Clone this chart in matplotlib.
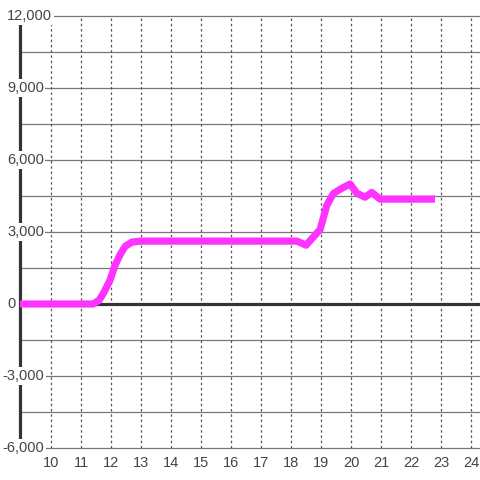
import matplotlib
matplotlib.use("Agg")
import matplotlib.pyplot as plt
import matplotlib.transforms as mtransforms

plt.rcParams['font.family'] = ['Liberation Sans', 'DejaVu Sans']
plt.rcParams['lines.scale_dashes'] = False

# series
hours = [8.9, 11.4, 11.6, 11.75, 11.97, 12.13, 12.3, 12.47, 12.7, 13.0,
         18.2, 18.5, 18.97, 19.19, 19.41, 19.69, 19.97, 20.19, 20.47,
         20.69, 20.97, 22.8]
values = [0, 0, 150, 450, 1000, 1600, 2050, 2400, 2580, 2620,
          2620, 2450, 3100, 4100, 4600, 4820, 5000, 4620, 4450,
          4650, 4370, 4370]

x_ticks = list(range(10, 25))
y_grid = list(range(-6000, 12001, 1500))
y_labels = list(range(-6000, 12001, 3000))

fig = plt.figure(figsize=(4.8, 4.8), dpi=100)
W = H = 480.0
left_px, right_px, top_px, bottom_px = 19.5, 480, 16, 448
ax = fig.add_axes([left_px / W, 1 - bottom_px / H,
                   (right_px - left_px) / W, (bottom_px - top_px) / H])
ax.set_xlim(10 - (51 - left_px) / 30.0, 10 + (right_px - 51) / 30.0)
ax.set_ylim(-6000, 12000)

# grid
for yv in y_grid:
    ax.axhline(yv, color='#777777', lw=0.9, zorder=1, clip_on=False)
for xv in x_ticks:
    ax.axvline(xv, color='#555555', lw=0.9, ls=(0, (1.8, 2.0)), zorder=1)
ax.axhline(0, color='#333333', lw=2.3, zorder=2)

for s in ['top', 'right', 'bottom']:
    ax.spines[s].set_visible(False)
ax.spines['left'].set_color('#333333')
ax.spines['left'].set_linewidth(2.3)

ax.plot(hours, values, color='#ff33ff', lw=5.2, solid_joinstyle='round',
        solid_capstyle='butt', zorder=4)

ax.set_xticks(x_ticks)
ax.set_xticklabels([str(v) for v in x_ticks])
ax.tick_params(axis='x', length=0, pad=6, labelsize=10.5, labelcolor='#444444')
ax.set_yticks([])

trans = mtransforms.blended_transform_factory(fig.transFigure, ax.transData)
for yv in y_labels:
    xpos = 2.5 if yv < 0 else 7
    ax.text(xpos / W, yv, format(yv, ','), transform=trans, ha='left',
            va='center', fontsize=10.5, color='#444444', zorder=6,
            clip_on=False,
            bbox=dict(facecolor='white', edgecolor='none', pad=1.2))

fig.savefig('out.png', dpi=100, facecolor='white')
